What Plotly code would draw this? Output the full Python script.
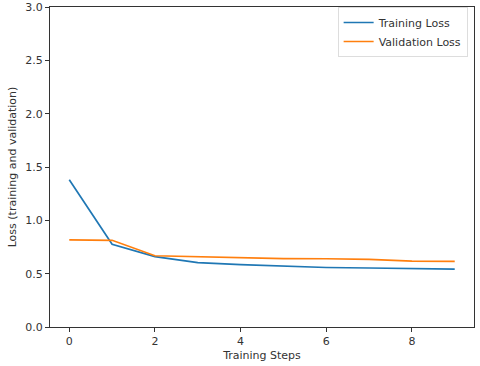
import plotly.graph_objects as go

steps = list(range(10))
train_loss = [1.38, 0.775, 0.66, 0.603, 0.585, 0.571, 0.558, 0.553, 0.549, 0.543]
val_loss = [0.817, 0.813, 0.668, 0.658, 0.646, 0.641, 0.64, 0.634, 0.618, 0.615]

fig = go.Figure()
fig.add_trace(go.Scatter(x=steps, y=train_loss, mode="lines", name="Training Loss",
                         line=dict(color="#1f77b4", width=1.7)))
fig.add_trace(go.Scatter(x=steps, y=val_loss, mode="lines", name="Validation Loss",
                         line=dict(color="#ff7f0e", width=1.7)))

axis_style = dict(
    showline=True, linecolor="#333333", linewidth=1, mirror=True,
    showgrid=False, zeroline=False, automargin=False,
    ticks="outside", ticklen=4, tickcolor="#333333",
    tickfont=dict(size=11, color="#333333"),
)

fig.update_xaxes(range=[-0.45, 9.45], tickvals=[0, 2, 4, 6, 8],
                 title=dict(text="Training Steps", font=dict(size=11, color="#333333"), standoff=4),
                 **axis_style)
fig.update_yaxes(range=[0, 3.0], tickvals=[0, 0.5, 1.0, 1.5, 2.0, 2.5, 3.0],
                 tickformat=".1f",
                 title=dict(text="Loss (training and validation)", font=dict(size=11, color="#333333"), standoff=6),
                 **axis_style)

fig.update_layout(
    width=480, height=366,
    margin=dict(l=50, r=6, t=7, b=39),
    paper_bgcolor="white", plot_bgcolor="white",
    font=dict(family="DejaVu Sans", size=11, color="#333333"),
    legend=dict(x=0.985, y=1.0, xanchor="right", yanchor="top",
                bgcolor="rgba(255,255,255,0.8)", bordercolor="#dddddd", borderwidth=1,
                font=dict(size=11), itemwidth=30, tracegroupgap=0),
)

# drop the default page margin so the figure sits at the window's corner
fig.write_html("out.html", config={"displayModeBar": False},
               post_script="document.body.style.margin='0';")
